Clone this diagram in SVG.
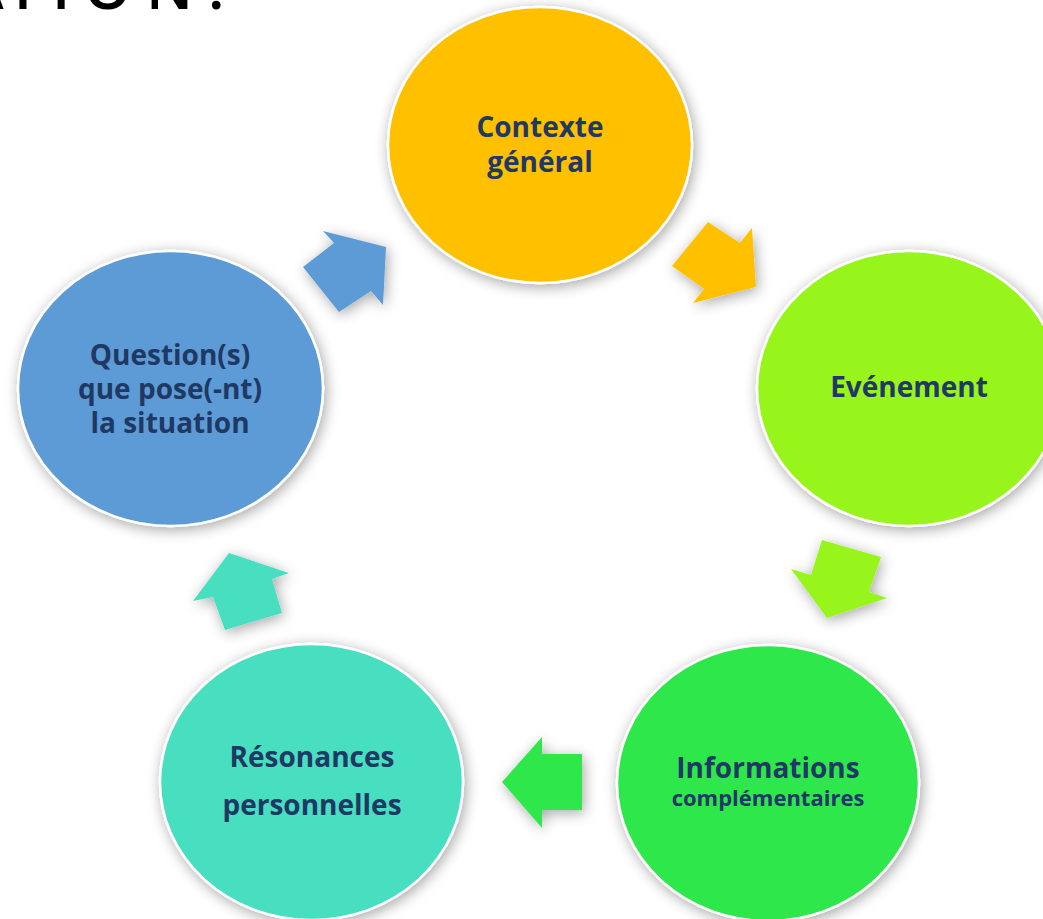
<svg xmlns="http://www.w3.org/2000/svg" width="1043" height="919" viewBox="0 0 1043 919">
  <defs>
    <filter id="shadow" x="-30%" y="-30%" width="160%" height="160%">
      <feGaussianBlur in="SourceAlpha" stdDeviation="7"/>
      <feOffset dx="2" dy="3" result="b"/>
      <feFlood flood-color="#000" flood-opacity="0.35"/>
      <feComposite in2="b" operator="in" result="s"/>
      <feMerge><feMergeNode in="s"/><feMergeNode in="SourceGraphic"/></feMerge>
    </filter>
  </defs>
  <style>
    .node { stroke: #ffffff; stroke-width: 2.5; filter: url(#shadow); }
    .arrow { filter: url(#shadow); }
    .label { font-family: "Open Sans", "Noto Sans", "DejaVu Sans", sans-serif; font-weight: 700; font-size: 28px; fill: #1f3864; text-anchor: middle; }
    .title { font-family: "Open Sans", "Liberation Sans", sans-serif; font-weight: 600; font-size: 60px; fill: #000; }
  </style>
  <rect width="1043" height="919" fill="#ffffff"/>
  <text class="title" x="-36 6 52 84 146 208" y="9">ATION.</text>

  <g id="connectors">
    <polygon class="arrow" fill="#FFC000" points="708,222 740,243 752,228 756,287 693,303 704,289 672,266"/>
    <polygon class="arrow" fill="#97F51C" points="822,540 881,557 869,592 887,598 827,618 791,569 811,575"/>
    <polygon class="arrow" fill="#2FE84B" points="582,754 582,810 542,810 542,828 502,782 542,737 542,754"/>
    <polygon class="arrow" fill="#47DFC0" points="229,553 289,573 272,579 282,613 225,630 213,597 193,601"/>
    <polygon class="arrow" fill="#5B9BD5" points="303,267 334,243 323,231 386,247 383,305 371,291 339,312"/>
  </g>

  <g id="node-contexte">
    <ellipse class="node" cx="540" cy="145" rx="152" ry="138" fill="#FFC000"/>
    <text class="label" x="540" y="137">Contexte</text>
    <text class="label" x="540" y="172">général</text>
  </g>
  <g id="node-evenement">
    <ellipse class="node" cx="909" cy="388.5" rx="152" ry="137.5" fill="#97F51C"/>
    <text class="label" x="909" y="397">Evénement</text>
  </g>
  <g id="node-informations">
    <ellipse class="node" cx="768" cy="783" rx="151" ry="138" fill="#2FE84B"/>
    <text class="label" x="768" y="778">Informations</text>
    <text class="label" x="768" y="806" style="font-size:22px">complémentaires</text>
  </g>
  <g id="node-resonances">
    <ellipse class="node" cx="311.5" cy="782" rx="151.5" ry="138" fill="#47DFC0"/>
    <text class="label" x="312" y="767">Résonances</text>
    <text class="label" x="312" y="815">personnelles</text>
  </g>
  <g id="node-question">
    <ellipse class="node" cx="170.5" cy="388.5" rx="152.5" ry="137.5" fill="#5B9BD5"/>
    <text class="label" x="170" y="365">Question(s)</text>
    <text class="label" x="170" y="399">que pose(-nt)</text>
    <text class="label" x="170" y="433">la situation</text>
  </g>
</svg>
